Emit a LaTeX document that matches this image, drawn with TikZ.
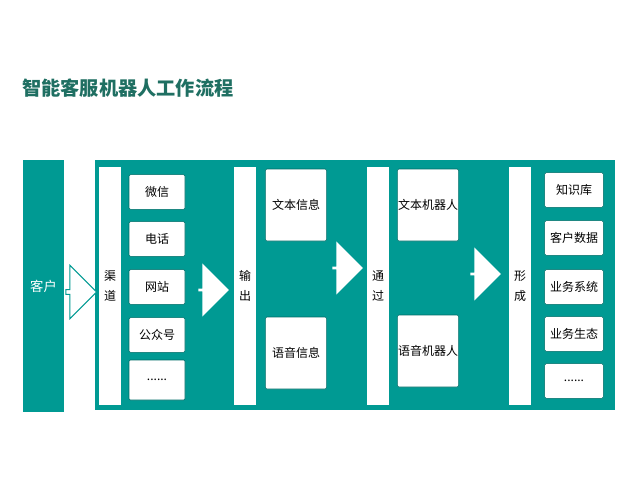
\documentclass[tikz,border=0pt]{standalone}
\usepackage{fontspec}
\newfontfamily\cjk{Noto Sans CJK SC}
\usetikzlibrary{shapes.arrows}
\definecolor{tl}{HTML}{009A93}
\definecolor{ttl}{HTML}{1F6F62}

\begin{document}
\begin{tikzpicture}[
            x = 0.75pt, y = -0.75pt,
            font=\cjk\small,
            every node/.style = {inner sep = 0pt},
            col/.style = {fill = white, minimum width = 17pt, minimum height = 178pt, align = center},
            item/.style = {fill = white, draw = tl!70!black, rounded corners = 1pt, minimum width = 42pt, minimum height = 26pt},
            big/.style = {fill = white, draw = tl!70!black, rounded corners = 1pt, minimum width = 46pt, minimum height = 54pt},
            flow/.style = {single arrow, fill = white, minimum height = 23pt, minimum width = 40pt, single arrow head extend = 4pt, shape border rotate = 0}
  ]
        \useasboundingbox (0,0) rectangle (640,480);

        \node[anchor = west, text = ttl, font=\cjk\bfseries\Large] (title) at (22, 88) {智能客服机器人工作流程};

        \node[fill = tl, text = white, minimum width = 31pt, minimum height = 189pt, font=\cjk\normalsize] (kh) at (43.5, 286) {客户};
        \node[fill = tl, minimum width = 390pt, minimum height = 188pt] (main) at (355, 285) {};

        \node[flow, draw = tl, thick] (a0) at (80, 292) {};

        % channel column
        \node[col] (qd) at (110, 286) {渠\\[4pt]道};
        \node[item] (wx) at (157, 192) {微信};
        \node[item] (dh) at (157, 239) {电话};
        \node[item] (wz) at (157, 287) {网站};
        \node[item] (gz) at (157, 335) {公众号};
        \node[item, minimum height = 30pt] (d1) at (157, 380) {......};

        \node[flow] (a1) at (213, 290) {};

        % output column
        \node[col] (sc) at (245, 286) {输\\[4pt]出};
        \node[big] (wb) at (296, 205) {文本信息};
        \node[big] (yy) at (296, 353) {语音信息};

        \node[flow] (a2) at (347, 268) {};

        % robot column
        \node[col] (tg) at (378, 286) {通\\[4pt]过};
        \node[big] (wr) at (428, 205) {文本机器人};
        \node[big] (yr) at (428, 351) {语音机器人};

        \node[flow] (a3) at (485, 274) {};

        % result column
        \node[col] (xc) at (520, 286) {形\\[4pt]成};
        \node[item, minimum width = 44pt] (zs) at (574, 190) {知识库};
        \node[item, minimum width = 44pt] (kd) at (574, 238) {客户数据};
        \node[item, minimum width = 44pt] (yw) at (574, 287) {业务系统};
        \node[item, minimum width = 44pt] (st) at (574, 334) {业务生态};
        \node[item, minimum width = 44pt] (d2) at (574, 381) {......};
    \end{tikzpicture}
\end{document}
